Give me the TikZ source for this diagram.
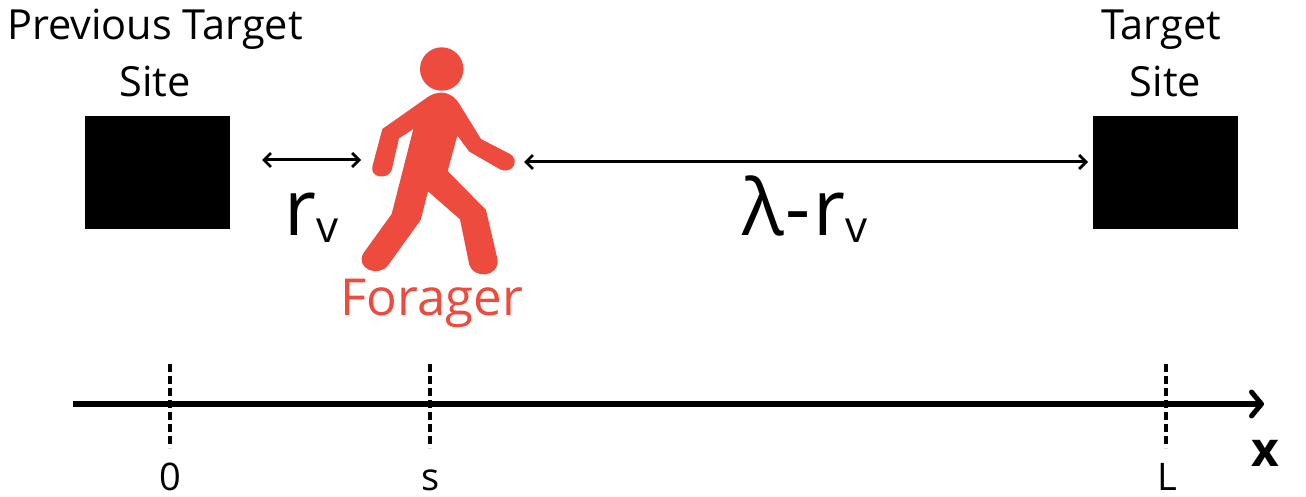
\documentclass[tikz,border=0pt]{standalone}
\usepackage{fontspec}
\setmainfont{Open Sans}
\usetikzlibrary{arrows.meta}
\definecolor{forager}{HTML}{EE4B3F}
\tikzset{
  site/.style={fill=black,draw=none,minimum width=145pt,minimum height=113pt,inner sep=0pt},
  lbl/.style={font=\fontsize{41.5}{57}\selectfont,align=center,inner sep=0pt,text=black},
  tick/.style={font=\fontsize{38}{44}\selectfont,inner sep=0pt,anchor=base},
  dist/.style={font=\fontsize{78}{84}\selectfont,inner sep=0pt,anchor=base west},
  span/.style={line width=3pt,{Straight Barb[length=7pt,width=14pt,line width=2.8pt]}-{Straight Barb[length=7pt,width=14pt,line width=2.8pt]}},
  axis/.style={line width=5.2pt,-{Straight Barb[length=10pt,width=24pt,line width=5pt,round]}},
  guide/.style={line width=3.2pt,dash pattern=on 8pt off 4pt},
}
\newcommand{\subv}{\raisebox{-7pt}{\fontsize{44}{48}\selectfont v}}
\begin{document}
\begin{tikzpicture}[x=1pt,y=-1pt]
\useasboundingbox (0,0) rectangle (1306,497);
\node[site] (prev) at (157.5,172.5) {};
\node[site] (target) at (1165.5,172.5) {};
\node[lbl] (prevlbl) at (155,53) {Previous Target\\Site};
\node[lbl] (targetlbl) at (1161,53) {Target\\\hspace*{9pt}Site};
\fill[forager] (441.7,69) circle[radius=21.7pt];
\begin{scope}[shift={(350,30)},x=0.3333pt,y=-0.3333pt]
\fill[forager] (275,188) .. controls (300,188) and (318,205) .. (330,225)
 -- (393,327) -- (480,372) .. controls (510,388) and (490,435) .. (450,418)
 -- (358,365) -- (322,317) -- (293,423) -- (408,540) -- (443,690)
 .. controls (445,745) and (370,745) .. (358,705)
 -- (330,568) -- (234,484) -- (212,570) -- (115,705)
 .. controls (85,745) and (15,715) .. (40,670)
 -- (125,552) -- (190,297) -- (147,325) -- (125,420)
 .. controls (115,450) and (60,445) .. (67,410)
 -- (97,297) -- (235,200) .. controls (248,192) and (260,188) .. (275,188) -- cycle;
\end{scope}
\node[font=\fontsize{51}{56}\selectfont,text=forager,inner sep=0pt] (foragerlbl) at (432,303) {Forager};
\coordinate (a1) at (262,160); \coordinate (a2) at (361,160);
\coordinate (b1) at (524,162); \coordinate (b2) at (1088,162);
\draw[span] (a1) -- (a2);
\draw[span] (b1) -- (b2);
\node[dist] (rv) at (284,236) {r\subv};
\node[dist] (lrv) at (742,236) {λ\kern2pt-\kern3pt r\subv};
\coordinate (o1) at (73,404); \coordinate (o2) at (1264,404);
\draw[axis] (o1) -- (o2);
\foreach \n/\x in {z/170,s/430,l/1166}{
  \coordinate (\n top) at (\x,364); \coordinate (\n bot) at (\x,448);
  \draw[guide] (\n top) -- (\n bot);
}
\node[tick] (zero) at (170,490) {0};
\node[tick] (ess) at (431,490) {s};
\node[tick] (ell) at (1167,490) {L};
\node[font=\fontsize{48}{54}\selectfont\bfseries,inner sep=0pt,anchor=base] (xl) at (1265,466) {x};
\end{tikzpicture}
\end{document}
